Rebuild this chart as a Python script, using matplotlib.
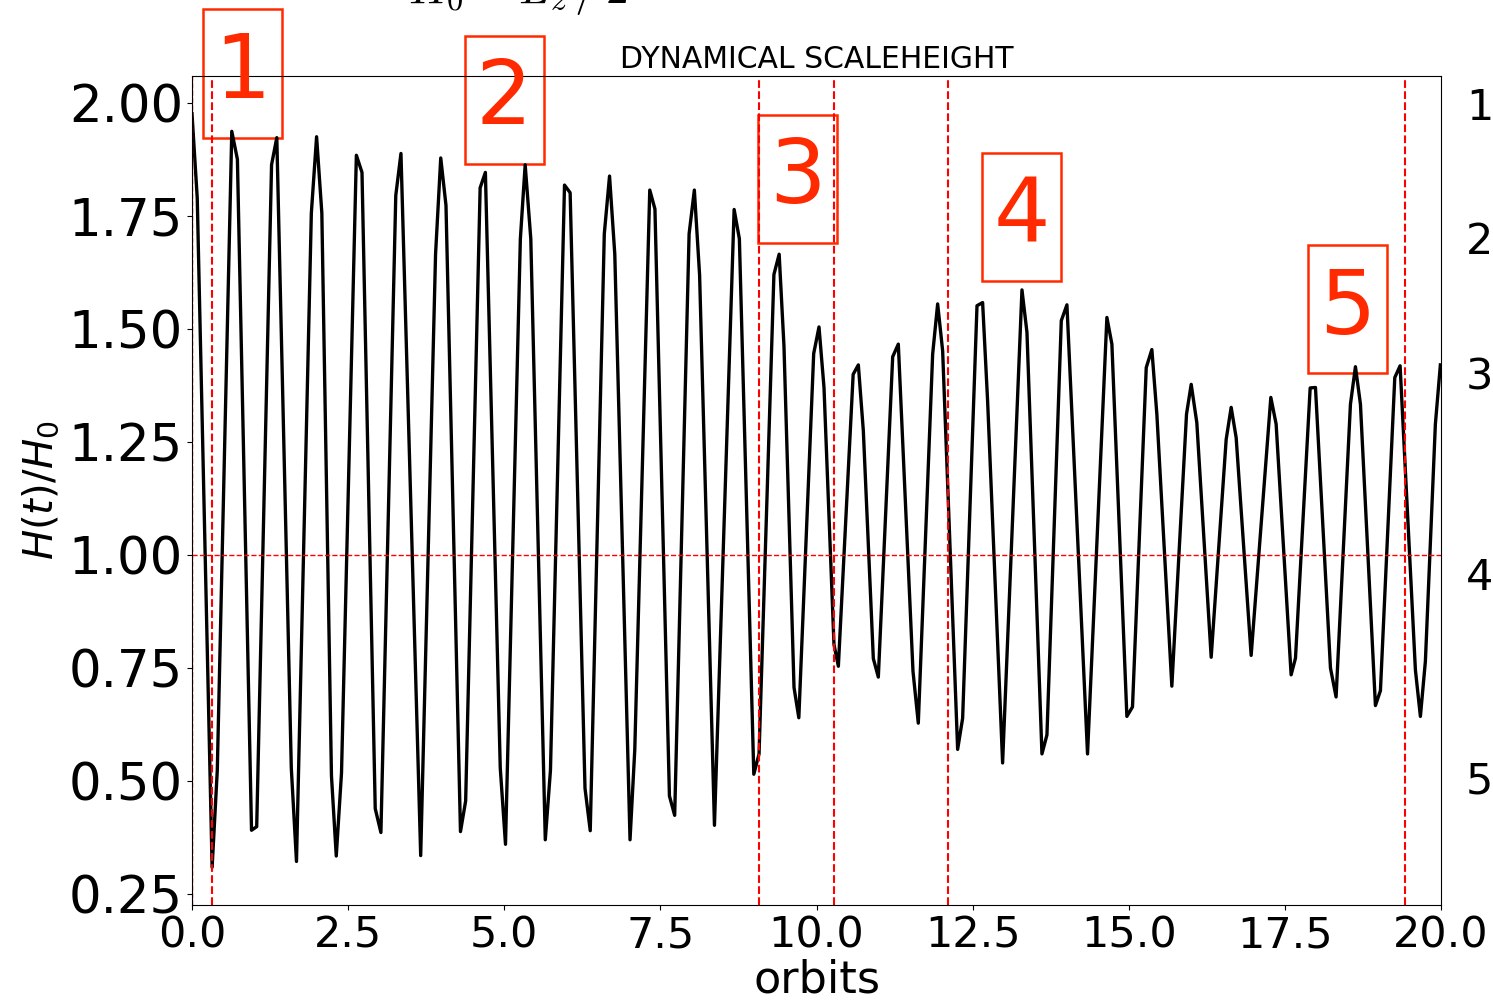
# ============================================================================
# 1 IMPORTS
# ============================================================================

import numpy as np
import matplotlib
matplotlib.use("Agg")
import matplotlib.pyplot as plt
from matplotlib.patches import Rectangle

# ============================================================================
# 2 DONNEES
# ============================================================================

# temps en orbites et hauteur normalisee H(t)/H0 (sommets de la courbe)
t_orbits = [0.0, 0.084, 0.322, 0.405, 0.637, 0.727, 0.953, 1.036, 1.274, 1.358,
            1.59, 1.673, 1.911, 1.995, 2.079, 2.233, 2.31, 2.394, 2.632, 2.722,
            2.934, 3.025, 3.263, 3.346, 3.662, 3.90, 3.983, 4.067, 4.299, 4.382,
            4.614, 4.698, 4.936, 5.02, 5.258, 5.335, 5.425, 5.657, 5.74, 5.965,
            6.055, 6.293, 6.377, 6.602, 6.686, 6.77, 7.014, 7.09, 7.33, 7.413,
            7.645, 7.729, 7.96, 8.044, 8.128, 8.366, 8.681, 8.765, 8.996, 9.08,
            9.318, 9.402, 9.479, 9.64, 9.717, 9.955, 10.04, 10.12, 10.28, 10.35,
            10.587, 10.67, 10.75, 10.91, 10.99, 11.22, 11.31, 11.545, 11.63, 11.86,
            11.94, 12.02, 12.26, 12.34, 12.57, 12.66, 12.74, 12.98, 13.29, 13.37,
            13.61, 13.69, 13.92, 14.01, 14.34, 14.65, 14.73, 14.97, 15.06, 15.28,
            15.37, 15.45, 15.69, 15.925, 16.0, 16.09, 16.32, 16.56, 16.64, 16.72,
            16.96, 17.275, 17.36, 17.6, 17.67, 17.905, 17.99, 18.23, 18.32, 18.55,
            18.63, 18.71, 18.95, 19.03, 19.26, 19.345, 19.59, 19.67, 19.75, 19.91,
            19.99]

h_ratio = [1.977, 1.79, 0.309, 0.524, 1.938, 1.876, 0.391, 0.399, 1.864, 1.924,
           0.529, 0.322, 1.757, 1.926, 1.757, 0.512, 0.334, 0.518, 1.885, 1.847,
           0.439, 0.386, 1.796, 1.889, 0.335, 1.666, 1.879, 1.774, 0.388, 0.456,
           1.813, 1.847, 0.529, 0.36, 1.70, 1.864, 1.70, 0.37, 0.524, 1.819,
           1.802, 0.484, 0.39, 1.711, 1.839, 1.666, 0.37, 0.569, 1.808, 1.766,
           0.467, 0.424, 1.711, 1.808, 1.62, 0.402, 1.765, 1.70, 0.515, 0.56,
           1.621, 1.666, 1.463, 0.707, 0.64, 1.446, 1.505, 1.371, 0.802, 0.754,
           1.40, 1.421, 1.275, 0.771, 0.73, 1.439, 1.467, 0.743, 0.628, 1.445,
           1.556, 1.452, 0.57, 0.639, 1.552, 1.559, 1.341, 0.54, 1.587, 1.493,
           0.56, 0.602, 1.519, 1.554, 0.56, 1.526, 1.467, 0.643, 0.664, 1.415,
           1.455, 1.312, 0.71, 1.312, 1.378, 1.293, 0.774, 1.256, 1.327, 1.26,
           0.778, 1.349, 1.29, 0.735, 0.772, 1.37, 1.371, 0.75, 0.686, 1.334,
           1.417, 1.334, 0.667, 0.70, 1.393, 1.419, 0.746, 0.643, 0.765, 1.29,
           1.421]

# instants des phases (lignes verticales) et etiquettes des phases
phase_times = [0.32, 9.08, 10.28, 12.10, 19.42]
phase_labels = ['1', '2', '3', '4', '5']
label_x = [0.81, 5.0, 9.69, 13.29, 18.5]
label_y = [2.066, 2.008, 1.833, 1.748, 1.544]

# etiquettes du panneau voisin (coupees a droite)
right_labels = ['1', '2', '3', '4', '5']
right_label_y = [108, 242, 378, 578, 782]

RED = '#ff2a00'
BOX_W = 1.265   # largeur des cadres (orbites)
BOX_H = 0.284   # hauteur des cadres (H/H0)

# ============================================================================
# 3 FIGURE
# ============================================================================

def main():
    fig = plt.figure(figsize=(14.93, 10.01), dpi=100)
    ax = fig.add_axes([192 / 1493, 1 - 905 / 1001, (1441 - 192) / 1493, (905 - 76) / 1001])

    ax.plot(t_orbits, h_ratio, color='black', linewidth=2.4)

    # lignes de reference
    ax.axhline(1.0, color='red', linestyle='--', linewidth=1)
    ax.axvline(0.0, color='red', linestyle='--', linewidth=1)
    for tp in phase_times:
        ax.axvline(tp, color='red', linestyle='--', linewidth=1.5)

    # etiquettes des phases dans des cadres
    for lx, ly, lab in zip(label_x, label_y, phase_labels):
        ax.text(lx, ly, lab, color=RED, fontsize=64, ha='center', va='center',
                clip_on=False)
        ax.add_patch(Rectangle((lx - BOX_W / 2, ly - BOX_H / 2), BOX_W, BOX_H,
                               facecolor='none', edgecolor=RED, linewidth=1.8,
                               clip_on=False))

    ax.set_xlim(0, 20)
    ax.set_xticks([0, 2.5, 5, 7.5, 10, 12.5, 15, 17.5, 20])
    ax.set_xticklabels(['0.0', '2.5', '5.0', '7.5', '10.0', '12.5', '15.0', '17.5', '20.0'])
    ax.set_yticks([0.25, 0.5, 0.75, 1.0, 1.25, 1.5, 1.75, 2.0])
    ax.tick_params(axis='x', labelsize=31, pad=3)
    ax.tick_params(axis='y', labelsize=37, pad=3)
    ax.set_xlabel('orbits', fontsize=32, labelpad=2)
    ax.set_ylabel(r'$H(t)/H_0$', fontsize=29, labelpad=5)
    ax.set_title('DYNAMICAL SCALEHEIGHT', fontsize=21.5, pad=6)

    # texte du dessus, coupe par le bord
    fig.text(0.347, 0.9975, r'$H_0 = L_z\,/\,2$', fontsize=33.5, ha='center',
             va='baseline', math_fontfamily='cm')

    for lab, py in zip(right_labels, right_label_y):
        fig.text(1466 / 1493, 1 - py / 1001, lab, fontsize=31, ha='left', va='center')

    fig.savefig('out.png', dpi=100)


if __name__ == "__main__":
    main()
